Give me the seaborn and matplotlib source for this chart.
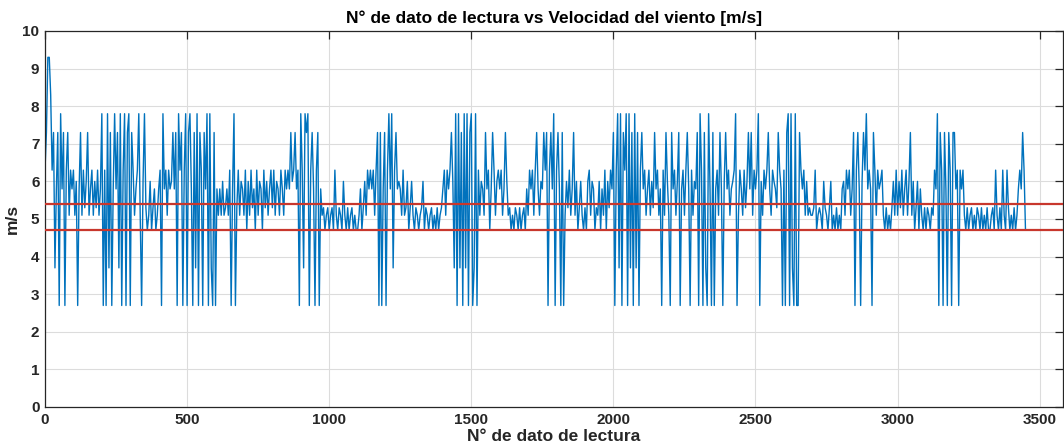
import numpy as np
import pandas as pd
import matplotlib
matplotlib.use("Agg")
import matplotlib.pyplot as plt
import seaborn as sns

# Wind speed readings (m/s), read every 5th reading number from the picture
speed = [
    6.3, 7.3, 9.3, 9.3, 8.3, 6.3, 7.3, 3.7, 5.8, 7.3,
    2.7, 7.8, 5.8, 7.3, 2.7, 6.3, 7.3, 5.1, 6.3, 5.8,
    6.3, 5.1, 6.0, 2.7, 5.8, 7.3, 5.1, 6.3, 5.3, 6.0,
    7.3, 5.1, 5.8, 6.3, 5.1, 6.0, 5.3, 6.3, 5.1, 5.8,
    7.8, 2.7, 6.3, 2.7, 7.8, 3.7, 7.3, 2.7, 5.8, 7.8,
    5.8, 7.3, 3.7, 7.8, 2.7, 6.3, 7.8, 2.7, 7.3, 7.8,
    2.7, 7.3, 6.3, 5.1, 5.8, 6.3, 7.8, 5.1, 2.7, 6.0,
    7.8, 5.3, 4.7, 5.1, 6.0, 4.7, 5.3, 5.8, 4.7, 5.1,
    5.8, 6.3, 2.7, 7.8, 5.8, 6.3, 5.1, 6.3, 5.8, 6.0,
    7.3, 5.8, 7.3, 2.7, 7.8, 6.3, 7.3, 2.7, 6.3, 7.8,
    2.7, 7.3, 7.8, 5.8, 2.7, 7.3, 3.7, 7.8, 2.7, 7.3,
    6.3, 2.7, 7.3, 5.8, 7.8, 2.7, 7.8, 3.7, 2.7, 7.3,
    2.7, 5.8, 5.1, 5.8, 5.1, 6.0, 5.1, 5.3, 5.8, 5.1,
    6.3, 2.7, 5.8, 7.8, 2.7, 5.3, 6.3, 5.1, 6.0, 5.8,
    5.1, 6.3, 4.7, 6.0, 5.1, 6.3, 5.3, 5.8, 4.7, 6.3,
    5.1, 6.0, 5.8, 4.7, 6.3, 5.3, 6.0, 5.1, 5.8, 6.3,
    5.3, 6.3, 5.1, 6.0, 5.8, 5.1, 6.3, 5.8, 5.1, 6.3,
    5.8, 6.3, 5.8, 7.3, 6.0, 6.3, 7.3, 5.8, 6.3, 2.7,
    7.8, 6.3, 3.7, 7.8, 7.3, 7.8, 2.7, 6.3, 7.3, 5.8,
    2.7, 6.3, 7.3, 2.7, 5.8, 5.1, 5.3, 4.7, 5.1, 5.3,
    4.7, 5.1, 5.3, 4.7, 6.3, 5.1, 4.7, 5.3, 5.1, 4.7,
    6.0, 5.1, 4.7, 5.3, 4.7, 5.1, 5.3, 4.7, 5.1, 4.7,
    4.7, 5.1, 5.8, 4.7, 5.3, 6.0, 5.1, 6.3, 5.8, 6.3,
    5.8, 6.3, 5.1, 6.3, 7.3, 2.7, 7.3, 2.7, 5.8, 7.3,
    2.7, 6.3, 7.8, 5.8, 7.8, 3.7, 6.3, 7.3, 5.8, 6.0,
    5.8, 5.1, 6.3, 5.1, 5.3, 6.0, 4.7, 5.3, 6.0, 5.1,
    4.7, 5.3, 5.1, 4.7, 5.1, 5.3, 6.0, 4.7, 5.3, 5.1,
    4.7, 5.1, 5.3, 4.7, 5.1, 4.7, 5.3, 4.7, 5.1, 5.3,
    5.8, 6.3, 5.1, 6.3, 5.8, 6.3, 7.3, 6.0, 3.7, 7.8,
    2.7, 7.8, 3.7, 7.3, 2.7, 7.8, 3.7, 7.8, 2.7, 7.3,
    7.8, 2.7, 3.7, 7.8, 2.7, 6.3, 5.1, 6.0, 5.8, 5.1,
    7.3, 5.8, 6.3, 4.7, 5.8, 7.3, 6.3, 5.1, 6.0, 6.3,
    5.8, 6.3, 5.1, 5.8, 7.3, 6.0, 5.1, 5.3, 4.7, 5.1,
    4.7, 5.3, 5.1, 4.7, 5.3, 4.7, 5.1, 5.3, 4.7, 5.8,
    5.1, 6.3, 5.8, 6.3, 5.1, 6.3, 7.3, 5.8, 5.1, 6.0,
    5.8, 7.3, 6.3, 7.3, 2.7, 6.3, 7.3, 5.8, 7.8, 2.7,
    6.3, 7.3, 5.8, 2.7, 7.3, 2.7, 5.1, 6.0, 5.3, 6.3,
    5.1, 5.8, 7.3, 5.1, 6.0, 4.7, 5.3, 6.0, 5.1, 4.7,
    5.3, 4.7, 6.0, 6.3, 5.1, 6.0, 5.8, 4.7, 5.3, 5.1,
    6.0, 4.7, 5.8, 5.1, 6.3, 4.7, 6.0, 5.3, 6.3, 5.8,
    7.3, 2.7, 6.3, 7.8, 3.7, 7.8, 2.7, 7.3, 6.3, 7.8,
    2.7, 7.8, 3.7, 7.3, 2.7, 7.8, 3.7, 7.3, 2.7, 6.3,
    7.3, 5.8, 6.3, 5.1, 5.8, 6.3, 5.1, 6.0, 5.3, 7.3,
    5.8, 6.3, 5.1, 5.8, 2.7, 6.3, 5.1, 7.3, 6.0, 5.1,
    2.7, 7.3, 5.8, 6.3, 5.1, 6.0, 7.3, 2.7, 5.8, 6.3,
    5.1, 6.3, 7.3, 5.8, 2.7, 6.3, 5.1, 6.0, 5.8, 7.3,
    2.7, 7.8, 6.3, 2.7, 7.3, 3.7, 2.7, 7.8, 5.8, 2.7,
    7.3, 2.7, 5.8, 6.3, 5.1, 7.3, 5.8, 2.7, 6.0, 7.3,
    5.8, 6.3, 5.1, 5.8, 6.0, 6.3, 7.8, 2.7, 5.1, 6.3,
    5.8, 5.1, 6.3, 5.3, 6.0, 7.3, 5.8, 7.3, 5.1, 6.3,
    5.8, 6.3, 7.8, 2.7, 6.0, 5.1, 6.3, 5.8, 6.3, 7.3,
    5.8, 5.1, 6.3, 6.0, 5.8, 5.3, 7.3, 6.3, 5.8, 2.7,
    6.3, 2.7, 7.3, 7.8, 2.7, 7.8, 3.7, 2.7, 7.8, 2.7,
    2.7, 7.3, 6.3, 5.8, 6.3, 5.1, 6.0, 5.1, 5.3, 5.1,
    5.1, 5.3, 6.3, 4.7, 5.1, 5.3, 5.1, 4.7, 6.0, 5.3,
    5.1, 4.7, 5.3, 6.0, 4.7, 5.1, 4.7, 5.3, 4.7, 5.1,
    4.7, 5.8, 6.0, 5.1, 6.3, 5.8, 6.3, 5.1, 5.8, 7.3,
    2.7, 6.3, 7.3, 5.8, 2.7, 6.0, 7.3, 6.3, 7.8, 5.8,
    6.3, 5.8, 2.7, 7.3, 6.3, 5.1, 6.3, 5.8, 6.0, 6.3,
    5.1, 4.7, 5.3, 4.7, 5.1, 4.7, 5.3, 6.0, 5.1, 6.3,
    5.1, 6.0, 5.3, 6.3, 5.1, 5.8, 6.3, 5.1, 6.0, 7.3,
    5.1, 6.0, 4.7, 5.3, 6.0, 4.7, 5.8, 5.1, 4.7, 5.3,
    4.7, 5.3, 5.1, 4.7, 5.3, 5.1, 6.3, 5.8, 7.8, 2.7,
    7.3, 6.3, 2.7, 7.3, 5.8, 2.7, 7.3, 6.3, 2.7, 7.3,
    7.3, 5.8, 6.3, 2.7, 6.3, 5.8, 6.3, 5.1, 4.7, 5.3,
    4.7, 5.1, 5.3, 4.7, 5.1, 4.7, 5.3, 5.1, 4.7, 5.3,
    4.7, 5.1, 4.7, 5.3, 4.7, 4.7, 5.1, 5.3, 4.7, 6.3,
    5.1, 4.7, 5.3, 4.7, 6.3, 5.1, 4.7, 6.3, 5.3, 4.7,
    5.1, 4.7, 5.3, 4.7, 5.1, 5.8, 6.3, 5.8, 7.3, 6.3,
    4.7,
]
reading_step = 5
reading_no = np.arange(len(speed)) * reading_step

# Reference (red) horizontal lines
thresholds = [5.4, 4.7]

x_ticks = [0, 500, 1000, 1500, 2000, 2500, 3000, 3500]
y_ticks = list(range(0, 11))

title = "N° de dato de lectura vs Velocidad del viento [m/s]"
x_label = "N° de dato de lectura"
y_label = "m/s"

df = pd.DataFrame({"n": reading_no, "v": speed})

sns.set_theme(style="white")
plt.rcParams["font.family"] = ["Liberation Sans", "DejaVu Sans"]

fig = plt.figure(figsize=(10.64, 4.47), dpi=100)
ax = fig.add_axes([45 / 1064, 1 - 407 / 447, (1063 - 45) / 1064, (407 - 31) / 447])

sns.lineplot(data=df, x="n", y="v", ax=ax, color="#0072BD", linewidth=1.0,
             estimator=None, zorder=2)
for t in thresholds:
    ax.axhline(t, color="#C8372D", linewidth=1.6, zorder=3)

ax.set_xlim(0, 3582)
ax.set_ylim(0, 10)
ax.set_xticks(x_ticks)
ax.set_yticks(y_ticks)
ax.grid(True, color="#DCDCDC", linewidth=0.8, zorder=0)
ax.set_axisbelow(True)

for s in ax.spines.values():
    s.set_visible(True)
    s.set_color("#262626")
    s.set_linewidth(0.9)
ax.tick_params(direction="in", length=6, width=0.9, color="#262626",
               top=True, right=True, labelsize=11, labelcolor="#262626", pad=4)
for lab in ax.get_xticklabels() + ax.get_yticklabels():
    lab.set_fontweight("bold")

ax.set_title(title, fontsize=12.5, fontweight="bold", color="#000000", pad=6)
ax.set_xlabel(x_label, fontsize=12.5, fontweight="bold", color="#262626", labelpad=2)
ax.set_ylabel(y_label, fontsize=12.5, fontweight="bold", color="#262626", labelpad=2)

fig.savefig("out.png", dpi=100)
